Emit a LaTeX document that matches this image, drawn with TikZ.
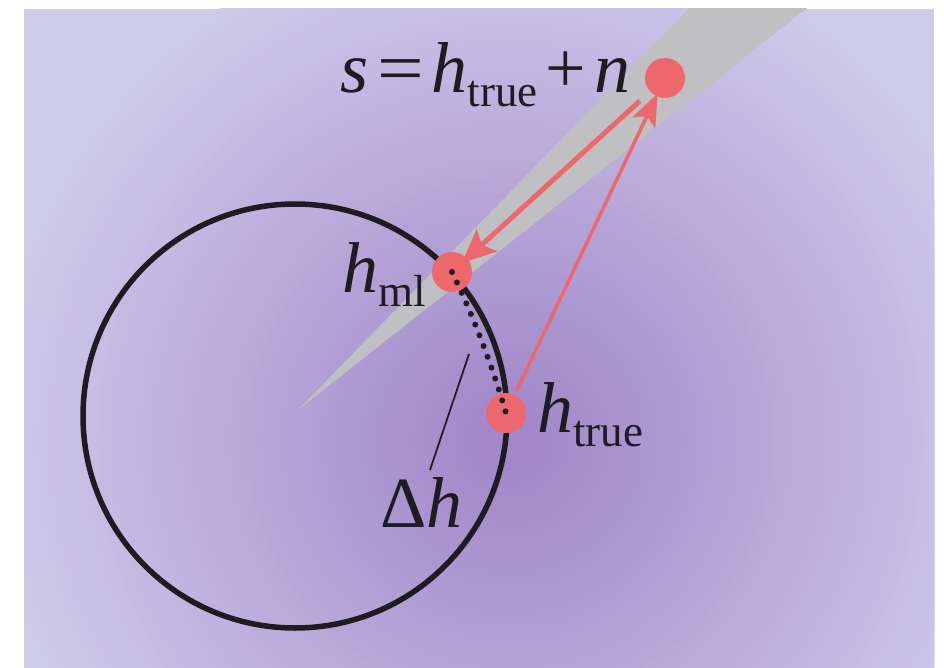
\documentclass[tikz,border=0pt]{standalone}
\usepackage{fontspec}
\usepackage{graphicx}
\setmainfont{Liberation Serif}
\usetikzlibrary{arrows.meta}
\definecolor{bgin}{RGB}{162,136,201}
\definecolor{bgout}{RGB}{206,202,234}
\definecolor{wedgegray}{RGB}{192,192,194}
\definecolor{dotred}{RGB}{236,104,108}
\definecolor{ink}{RGB}{30,28,32}
\newcommand\lsub[1]{\raisebox{-14pt}{\fontsize{45}{45}\selectfont #1}}
\newcommand\weq{\scalebox{1.15}[1]{=}}
\begin{document}
\begin{tikzpicture}[x=1pt,y=-1pt,
  reddot/.style={circle,fill=dotred,inner sep=0pt,minimum size=40pt},
  arrowA/.style={draw=dotred,line width=5pt,-{Stealth[length=34pt,width=30pt,inset=7pt]},shorten <=14pt,shorten >=-7pt},
  arrowB/.style={draw=dotred,line width=3.5pt,-{Stealth[length=32pt,width=25pt,inset=7pt]},shorten <=4pt,shorten >=-3pt},
  dotline/.style={draw=ink,line width=6pt,line cap=round,dash pattern=on 0pt off 11.5pt},
  lbl/.style={text=ink,inner sep=0pt,font=\fontsize{72}{72}\selectfont}]
\useasboundingbox (0,0) rectangle (944,668);
\fill[white] (0,0) rectangle (944,668);
\fill[bgout] (24,9) rectangle (934,668);
\begin{scope}
  \clip (24,9) rectangle (934,668);
  \foreach \i in {0,...,59}{
    \pgfmathsetmacro\rr{520-8.3*\i}
    \pgfmathsetmacro\pc{100*\i/59}
    \fill[bgin!\pc!bgout] (510,440) circle[radius=\rr];
  }
  \fill[wedgegray] (298,410) -- (736,-40) -- (868,-40) -- cycle;
\end{scope}
\coordinate (c) at (295,416);
\draw[ink,line width=5.5pt] (c) circle[radius=212];
\node[reddot] (s) at (665,78) {};
\node[reddot] (ml) at (452,272) {};
\node[reddot] (tr) at (506,413) {};
\draw[arrowA] (s) -- (ml);
\draw[arrowB] (tr) -- (s);
\draw[dotline] (ml.center) .. controls (474,318) and (492,365) .. (tr.center);
\coordinate (la) at (469,354);
\coordinate (lb) at (430,470);
\draw[ink,line width=1.8pt] (la) -- (lb);
\node[lbl,anchor=base west] (eq) at (340,93) {\textit{s}\kern9pt\weq\kern8pt\textit{h}\lsub{true}\kern8pt+\kern8pt\textit{n}};
\node[lbl,anchor=base west] (lml) at (342,292) {\textit{h}\lsub{ml}};
\node[lbl,anchor=base west] (ltr) at (537,432) {\textit{h}\lsub{true}};
\node[lbl,anchor=base west] (ldh) at (380,527) {Δ\textit{h}};
\end{tikzpicture}
\end{document}
